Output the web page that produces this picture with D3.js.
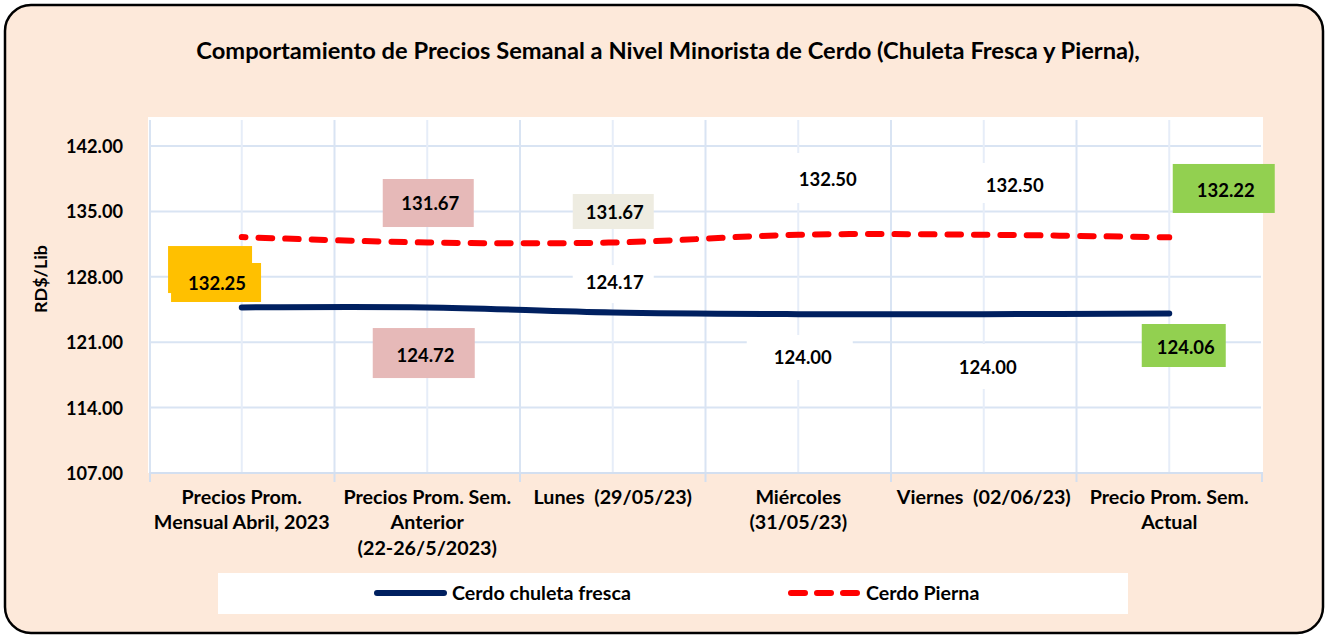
<!DOCTYPE html>
<html>
<head>
<meta charset="utf-8">
<script src="https://cdn.jsdelivr.net/npm/d3@7"></script>
<style>
  html, body { margin: 0; padding: 0; background: #ffffff; }
  svg { display: block; }
  text { white-space: pre; }
</style>
</head>
<body>
<svg id="chart" width="1328" height="636"></svg>
<script>
// ---------- DATA ----------
const titleText = "Comportamiento de Precios Semanal a Nivel Minorista de Cerdo (Chuleta Fresca y Pierna),";
const categories = [
  ["Precios Prom.", "Mensual Abril, 2023"],
  ["Precios Prom. Sem.", "Anterior", "(22-26/5/2023)"],
  ["Lunes  (29/05/23)"],
  ["Miércoles", "(31/05/23)"],
  ["Viernes  (02/06/23)"],
  ["Precio Prom. Sem.", "Actual"]
];
const seriesNames = ["Cerdo chuleta fresca", "Cerdo Pierna"];
const chuleta = [124.72, 124.72, 124.17, 124.00, 124.00, 124.06];
const pierna  = [132.25, 131.67, 131.67, 132.50, 132.50, 132.22];
const yTicks  = [107, 114, 121, 128, 135, 142];
const yTitle  = "RD$/Lib";

// ---------- LAYOUT / STYLE ----------
const F = "Lato, 'Open Sans', sans-serif";
const W = 1328, H = 636;
const plot = { x0: 149, x1: 1262, y0: 146, y1: 473, bgTop: 117 };
const colNavy = "#002060", colRed = "#FF0000";

// label placement (pixel offsets of text centre from the point, box relative to text centre)
const piernaLab = [
  { dx: -24.7, dy: 45.9, box: [-46, -20, 90, 39], fill: "#FFC000", show: true },
  { dx: 3,     dy: -39.5, box: [-47.5, -24, 91, 48], fill: "#E6B9B8", show: true },
  { dx: 2,     dy: -30.5, box: [-42, -18, 81, 35], fill: "#EEECE1", show: true },
  { dx: 29.5,  dy: -55.8, box: [-45, -26, 90, 50], fill: "#FFFFFF", show: true },
  { dx: 31,    dy: -49.8, box: [-45, -22, 90, 40], fill: "#FFFFFF", show: true },
  { dx: 56.5,  dy: -47.4, box: [-53, -26, 102, 49], fill: "#92D050", show: true }
];
const chuletaLab = [
  { dx: -31.7, dy: -37.9, box: [-42, -23.5, 84, 47], fill: "#FFC000", show: false },
  { dx: -1.7,  dy: 47.6, box: [-52.8, -27, 102, 50], fill: "#E6B9B8", show: true },
  { dx: 2,     dy: -30.5, box: [-42, -17, 81, 38], fill: "#FFFFFF", show: true },
  { dx: 4.5,   dy: 42.8, box: [-56, -22, 106, 45], fill: "#FFFFFF", show: true },
  { dx: 4,     dy: 52.8, box: [-53, -23, 106, 45], fill: "#FFFFFF", show: true },
  { dx: 16.5,  dy: 33.4, box: [-44, -23, 84, 43], fill: "#92D050", show: true }
];

const svg = d3.select("#chart");

function fitSize(sample, targetW, base) {
  const t = svg.append("text").attr("font-family", F).attr("font-weight", "bold")
    .attr("font-size", base).text(sample);
  const w = t.node().getComputedTextLength();
  t.remove();
  return base * targetW / w;
}
const titleSize = fitSize(titleText, 944, 20);
const tickSize  = fitSize("142.00", 57, 18);
const labSize   = fitSize("131.67", 58, 18);
const catSize   = fitSize("Mensual Abril, 2023", 176, 16);
const legSize   = fitSize("Cerdo chuleta fresca", 179, 16);
const yTSize    = fitSize(yTitle, 68, 16);

// background
svg.append("rect").attr("x", 5).attr("y", 5).attr("width", 1318).attr("height", 628)
  .attr("rx", 26).attr("ry", 26)
  .attr("fill", "#FDE9DA").attr("stroke", "#000").attr("stroke-width", 2.5);

// title
svg.append("text").attr("x", 668).attr("y", 50).attr("dy", "0.36em")
  .attr("text-anchor", "middle").attr("font-family", F).attr("font-weight", "bold")
  .attr("font-size", titleSize).attr("fill", "#000").text(titleText);

// plot background
svg.append("rect").attr("x", 148).attr("y", plot.bgTop).attr("width", 1263 - 148)
  .attr("height", plot.y1 - plot.bgTop).attr("fill", "#FFFFFF");

// scales
const x = d3.scaleBand().domain(d3.range(categories.length)).range([plot.x0, plot.x1]).padding(0);
const xc = i => x(i) + x.bandwidth() / 2;
const y = d3.scaleLinear().domain([107, 142]).range([plot.y1, plot.y0]);

// gridlines
const grid = svg.append("g");
grid.selectAll("line.h").data(yTicks.filter(t => t !== 107)).join("line")
  .attr("x1", 151).attr("x2", 1261).attr("y1", d => y(d)).attr("y2", d => y(d))
  .attr("stroke", "#D9E4F3").attr("stroke-width", 2);
// minor (category centre) gridlines
grid.selectAll("line.vc").data(d3.range(categories.length)).join("line")
  .attr("x1", d => xc(d)).attr("x2", d => xc(d)).attr("y1", 120).attr("y2", plot.y1)
  .attr("stroke", "#E6EDF8").attr("stroke-width", 2);
// major (category boundary) gridlines
grid.selectAll("line.vb").data(d3.range(categories.length)).join("line")
  .attr("class", "vb")
  .attr("x1", d => x(d) + (d === 0 ? 1 : 0)).attr("x2", d => x(d) + (d === 0 ? 1 : 0))
  .attr("y1", 120).attr("y2", plot.y1)
  .attr("stroke", "#D9E4F3").attr("stroke-width", 2);

// x axis
const xAxisG = svg.append("g");
xAxisG.append("line").attr("x1", plot.x0).attr("x2", plot.x1 + 1).attr("y1", plot.y1).attr("y2", plot.y1)
  .attr("stroke", "#D3DFF0").attr("stroke-width", 2);
xAxisG.selectAll("line.tk").data(d3.range(categories.length + 1)).join("line")
  .attr("x1", d => (d < categories.length ? x(d) : plot.x1) + (d === 0 ? 1 : 0))
  .attr("x2", d => (d < categories.length ? x(d) : plot.x1) + (d === 0 ? 1 : 0))
  .attr("y1", plot.y1).attr("y2", plot.y1 + 9)
  .attr("stroke", "#D3DFF0").attr("stroke-width", 2);
const catG = xAxisG.selectAll("text.cat").data(categories).join("text")
  .attr("text-anchor", "middle").attr("font-family", F).attr("font-weight", "bold")
  .attr("font-size", catSize).attr("fill", "#000");
catG.each(function (lines, i) {
  d3.select(this).selectAll("tspan").data(lines).join("tspan")
    .attr("x", xc(i)).attr("y", (d, j) => 497 + j * 25.3).attr("dy", "0.36em").text(d => d);
});

// y axis labels
svg.append("g").selectAll("text").data(yTicks).join("text")
  .attr("x", 123).attr("y", d => y(d) + 0.5).attr("dy", "0.36em").attr("text-anchor", "end")
  .attr("font-family", F).attr("font-weight", "bold").attr("font-size", tickSize)
  .attr("fill", "#000").text(d => d3.format(".2f")(d));
svg.append("text").attr("transform", "translate(41,279) rotate(-90)").attr("dy", "0.36em")
  .attr("text-anchor", "middle").attr("font-family", F).attr("font-weight", "bold")
  .attr("font-size", yTSize).attr("fill", "#000").text(yTitle);

// lines
const line = d3.line().x((d, i) => xc(i)).y(d => y(d)).curve(d3.curveCatmullRom.alpha(0.5));
svg.append("path").datum(chuleta).attr("d", line).attr("fill", "none")
  .attr("stroke", colNavy).attr("stroke-width", 6).attr("stroke-linecap", "round");
svg.append("path").datum(pierna).attr("d", line).attr("fill", "none")
  .attr("stroke", colRed).attr("stroke-width", 6).attr("stroke-linecap", "round")
  .attr("stroke-dasharray", "13.5,13").attr("stroke-dashoffset", 9.5);

// data labels
function drawLabels(values, cfg) {
  const g = svg.append("g");
  values.forEach((v, i) => {
    const c = cfg[i];
    const tx = xc(i) + c.dx, ty = y(v) + c.dy;
    g.append("rect").attr("x", tx + c.box[0]).attr("y", ty + c.box[1])
      .attr("width", c.box[2]).attr("height", c.box[3]).attr("fill", c.fill);
    if (c.show) {
      g.append("text").attr("x", tx).attr("y", ty).attr("dy", "0.36em")
        .attr("text-anchor", "middle").attr("font-family", F).attr("font-weight", "bold")
        .attr("font-size", labSize).attr("fill", "#000").text(d3.format(".2f")(v));
    }
  });
}
drawLabels(chuleta, chuletaLab);
drawLabels(pierna, piernaLab);

// legend
const lg = svg.append("g");
lg.append("rect").attr("x", 218).attr("y", 573).attr("width", 910).attr("height", 41).attr("fill", "#FFFFFF");
lg.append("line").attr("x1", 377).attr("x2", 444).attr("y1", 593).attr("y2", 593)
  .attr("stroke", colNavy).attr("stroke-width", 6).attr("stroke-linecap", "round");
lg.append("text").attr("x", 452).attr("y", 593).attr("dy", "0.36em").attr("font-family", F)
  .attr("font-weight", "bold").attr("font-size", legSize).attr("fill", "#000").text(seriesNames[0]);
lg.append("line").attr("x1", 791).attr("x2", 858).attr("y1", 593).attr("y2", 593)
  .attr("stroke", colRed).attr("stroke-width", 6).attr("stroke-linecap", "round")
  .attr("stroke-dasharray", "14,12");
lg.append("text").attr("x", 866).attr("y", 593).attr("dy", "0.36em").attr("font-family", F)
  .attr("font-weight", "bold").attr("font-size", legSize).attr("fill", "#000").text(seriesNames[1]);
</script>
</body>
</html>
